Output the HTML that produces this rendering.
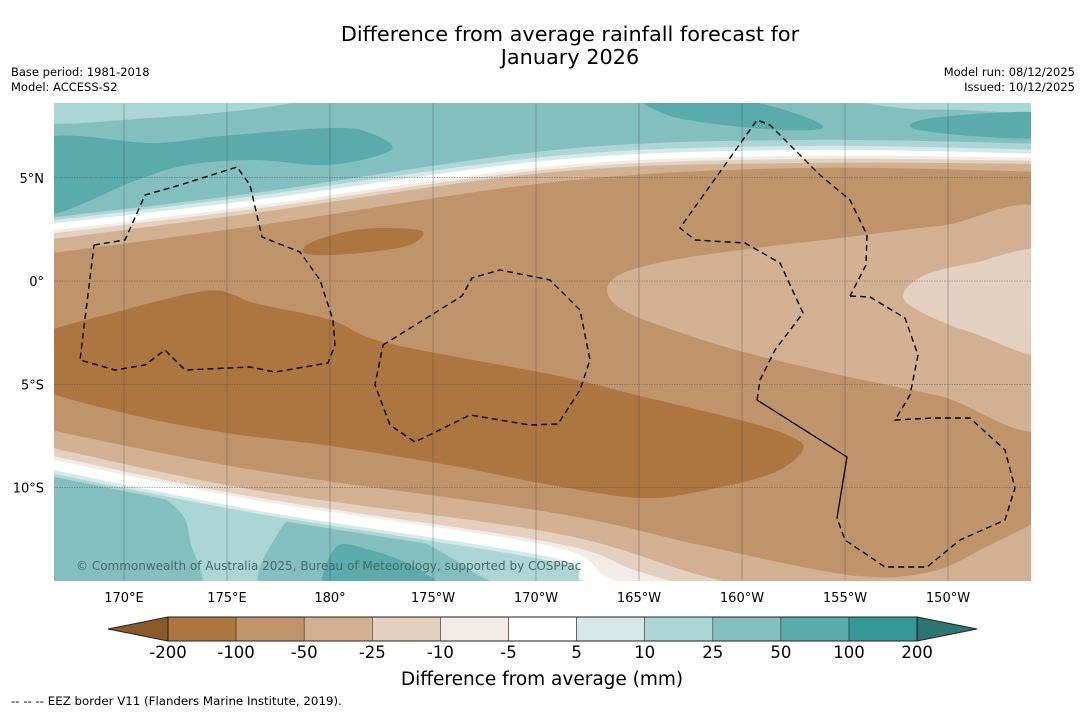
<!DOCTYPE html>
<html><head><meta charset="utf-8"><style>
html,body{margin:0;padding:0;background:#fff;overflow:hidden;width:1085px;height:713px;}
svg{display:block;font-family:"DejaVu Sans","Liberation Sans",sans-serif;}
</style></head><body>
<svg id="svg" width="1085" height="713" viewBox="0 0 1085 713" xmlns="http://www.w3.org/2000/svg">
<defs><clipPath id="mapclip"><rect x="54" y="103" width="977" height="478"/></clipPath></defs>
<text x="570" y="41" font-size="20.8" text-anchor="middle">Difference from average rainfall forecast for</text>
<text x="570" y="64" font-size="20.8" text-anchor="middle">January 2026</text>
<text x="11" y="76" font-size="11.5">Base period: 1981-2018</text>
<text x="11" y="91" font-size="11.5">Model: ACCESS-S2</text>
<text x="1075" y="76" font-size="11.5" text-anchor="end">Model run: 08/12/2025</text>
<text x="1075" y="91" font-size="11.5" text-anchor="end">Issued: 10/12/2025</text>
<g id="map" clip-path="url(#mapclip)"></g>
<g id="grid"></g>
<g id="eez" clip-path="url(#mapclip)"></g>
<text x="76" y="570" font-size="12" fill="#4a6a6a">© Commonwealth of Australia 2025, Bureau of Meteorology, supported by COSPPac</text>
<g id="axes"></g>
<g id="cbar"></g>
<text x="542" y="685" font-size="18.5" text-anchor="middle">Difference from average (mm)</text>
<text x="11" y="705" font-size="11.8">--  --  -- EEZ border V11 (Flanders Marine Institute, 2019).</text>
</svg>
<script>
const cbLevels=["-200","-100","-50","-25","-10","-5","5","10","25","50","100","200"];
const cbColors=["#ad7640","#c0946a","#d2b192","#e4d0bf","#f1ece7","#ffffff","#d5e9e8","#acd6d5","#84bfbf","#5aabab","#339896"];
const lonLabels=["170°E","175°E","180°","175°W","170°W","165°W","160°W","155°W","150°W"];
const lonValues=[170,175,180,185,190,195,200,205,210];
const latLabels=["5°N","0°","5°S","10°S"];
const latValues=[5,0,-5,-10];
const NS="http://www.w3.org/2000/svg";
const lonX=l=>124+(l-170)*20.6;
const latY=l=>281-l*20.65;
function mk(tag,attrs,parent){const e=document.createElementNS(NS,tag);for(const k in attrs)e.setAttribute(k,attrs[k]);parent.appendChild(e);return e;}
function smooth(p,closed){
  let n=p.length,d="M"+p[0][0]+","+p[0][1];
  const g=i=>closed?p[(i+n)%n]:p[Math.max(0,Math.min(n-1,i))];
  const m=closed?n:n-1;
  for(let i=0;i<m;i++){const p0=g(i-1),p1=g(i),p2=g(i+1),p3=g(i+2);
    d+=" C"+(p1[0]+(p2[0]-p0[0])/6).toFixed(1)+","+(p1[1]+(p2[1]-p0[1])/6).toFixed(1)+" "+(p2[0]-(p3[0]-p1[0])/6).toFixed(1)+","+(p2[1]-(p3[1]-p1[1])/6).toFixed(1)+" "+p2[0]+","+p2[1];}
  return d+(closed?"Z":"");
}
const map=document.getElementById('map');
function reg(name,color,pts){const e=mk('path',{d:smooth(pts,true),fill:color},map);

}
let b=mk('rect',{x:54,y:103,width:977,height:478,fill:cbColors[8]},map);


reg('top-left-light',cbColors[7],[[40,90],[300,95],[260,108],[150,118],[40,122]]);
reg('top-right-light',cbColors[7],[[840,95],[1040,95],[1040,112],[960,110],[900,108]]);
reg('north-patch-50-100',cbColors[9],[[40,140],[154,143],[221,136],[330,128],[370,133],[391,150],[330,165],[254,160],[187,165],[137,180],[40,214]]);
reg('north-mid-patch',cbColors[9],[[640,95],[740,100],[800,115],[823,128],[780,130],[700,122],[660,112]]);
reg('north-right-patch',cbColors[9],[[910,127],[940,117],[1040,113],[1040,137],[960,135]]);
reg('south-10-25',cbColors[7],[[40,460],[254,505],[554,555],[650,590],[1040,650],[40,650]]);
reg('south-left-patch',cbColors[8],[[40,486],[100,485],[150,492],[180,512],[190,540],[192,600],[40,600]]);
reg('south-mid-patch',cbColors[8],[[274,600],[280,530],[320,512],[370,513],[420,540],[470,570],[500,600]]);
reg('south-mid-patch-dark',cbColors[9],[[330,600],[335,548],[370,550],[420,570],[445,600]]);
const bandN=[
 [[30,220],[254,193],[554,150],[800,140],[1050,144]],
 [[30,223],[254,196],[554,156],[800,146],[1050,150]],
 [[30,226],[254,200],[554,160],[800,150],[1050,154]],
 [[30,233],[254,206],[554,166],[800,156],[1050,158]],
 [[30,236],[254,209],[554,169],[800,159],[1050,161]],
 [[30,242],[254,213],[554,172],[800,163],[1050,164]],
 [[30,256],[254,226],[554,182],[800,168],[1050,172]]];
const bandS=[
 [[30,472],[254,516],[554,566],[620,600],[1050,660]],
 [[30,469],[254,513],[554,562],[620,595],[1050,655]],
 [[30,465],[254,510],[554,558],[620,590],[1050,650]],
 [[30,455],[254,500],[554,547],[650,590],[1050,645]],
 [[30,451],[254,497],[554,543],[650,575],[850,630],[1050,650]],
 [[30,443],[254,490],[554,533],[700,575],[850,610],[1050,625]],
 [[30,426],[254,470],[554,513],[700,545],[850,575],[930,572],[990,545],[1050,515]]];
const bandColors=[cbColors[7],cbColors[6],cbColors[5],cbColors[4],cbColors[3],cbColors[2],cbColors[1]];
for(let i=0;i<bandN.length;i++){
  const s=bandS[i].slice().reverse();
  const sp=smooth(s,false).replace(/^M/," L");
  const e=mk('path',{d:smooth(bandN[i],false)+sp+"Z",fill:bandColors[i]},map);
  
  
}
reg('right-tongue-25-50',cbColors[2],[[607,290],[623,273],[673,260],[740,250],[840,238],[940,226],[1050,218],[1050,422],[940,396],[840,375],[740,351],[673,330],[623,310]]);
reg('right-patch-10-25',cbColors[3],[[903,296],[923,276],[973,263],[1050,254],[1050,352],[973,333],[923,313]]);
reg('dark-band-100-200',cbColors[0],[[30,340],[124,310],[204,291],[234,295],[254,303],[331,320],[387,343],[554,375],[640,396],[740,420],[790,436],[803,450],[773,473],[707,490],[640,498],[540,483],[454,466],[331,446],[227,433],[124,413],[30,383]]);
reg('dark-blob-100-200',cbColors[0],[[304,253],[310,243],[345,232],[380,228],[422,231],[410,245],[370,252],[330,255]]);
const grid=document.getElementById('grid');
lonValues.forEach(v=>{const l=mk('line',{x1:lonX(v),x2:lonX(v),y1:103,y2:581,stroke:"#444",'stroke-width':0.5,'stroke-opacity':0.7},grid);

});
latValues.forEach(v=>{const l=mk('line',{x1:54,x2:1031,y1:latY(v),y2:latY(v),stroke:"#444",'stroke-width':0.6,'stroke-opacity':0.8,'stroke-dasharray':'1.5,1'},grid);

});
const eez=document.getElementById('eez');
const eezLines=[
 [[94,245],[125,240],[145,195],[180,185],[237,167],[250,185],[262,237],[300,252],[320,280],[333,320],[335,345],[328,363],[275,372],[250,367],[185,370],[165,350],[145,365],[115,370],[80,360],[94,245]],
 [[383,345],[462,296],[472,278],[500,270],[550,280],[580,310],[590,360],[580,390],[558,424],[530,425],[470,415],[415,442],[390,425],[375,385],[383,345]],
 [[757,400],[760,380],[775,350],[803,313],[780,263],[745,243],[695,240],[680,228],[757,120],[770,125],[820,175],[850,200],[867,235],[866,265],[850,296]],
 [[850,296],[870,297],[905,318],[918,355],[910,395],[895,420],[933,418],[970,418],[1005,450],[1015,488],[1005,520],[960,540],[927,567],[885,567],[845,540],[837,518]]];
eezLines.forEach(pts=>{const p=mk('polyline',{points:pts.map(q=>q.join(",")).join(" "),fill:"none",stroke:"#000",'stroke-width':1.4,'stroke-dasharray':'6,4'},eez);

});
const sol=mk('polyline',{points:"757,400 847,457 837,518",fill:"none",stroke:"#000",'stroke-width':1.3},eez);


const axes=document.getElementById('axes');
lonLabels.forEach((t,i)=>{const e=mk('text',{x:lonX(lonValues[i]),y:602,'font-size':13,'text-anchor':'middle'},axes);e.textContent=t;

});
latLabels.forEach((t,i)=>{const e=mk('text',{x:44,y:latY(latValues[i])+5,'font-size':13,'text-anchor':'end'},axes);e.textContent=t;

});
const cb=document.getElementById('cbar');
const cx0=168,cw=68.1,cy=617,ch=24;
let t1=mk('polygon',{points:`${cx0},${cy} ${cx0},${cy+ch} 108,${cy+ch/2}`,fill:"#8b5a2b",stroke:"#222",'stroke-width':1},cb);


const xe=cx0+cw*cbColors.length;
let t2=mk('polygon',{points:`${xe},${cy} ${xe},${cy+ch} 977,${cy+ch/2}`,fill:"#2a7673",stroke:"#222",'stroke-width':1},cb);


cbColors.forEach((c,i)=>{const r=mk('rect',{x:cx0+i*cw,y:cy,width:cw,height:ch,fill:c,stroke:"#333",'stroke-width':0.6},cb);

});
mk('rect',{x:cx0,y:cy,width:cw*cbColors.length,height:ch,fill:"none",stroke:"#222",'stroke-width':1},cb);
cbLevels.forEach((t,i)=>{const e=mk('text',{x:cx0+i*cw,y:658,'font-size':16.5,'text-anchor':'middle'},cb);e.textContent=t;

});
</script>
</body></html>
